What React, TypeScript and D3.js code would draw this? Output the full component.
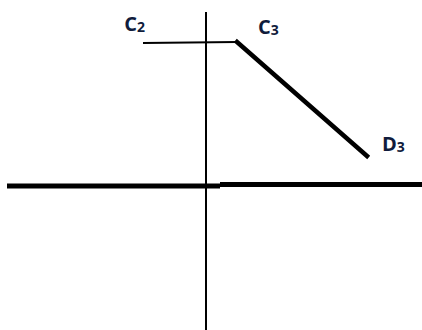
import React from "react";
import * as d3 from "d3";

// Points of the kinked demand segment (axis units)
const pointNames = ["C", "C", "D"];
const pointSubs = ["2", "3", "3"];
const pointX = [-6.3, 3.1, 16.1];
const pointY = [14.2, 14.3, 2.9];

// Label anchor offsets in axis units, relative to each point
const labelDX = [0.2, 2.1, 1.5];
const labelDY = [1.2, 0.8, 0.5];

const W = 422;
const H = 330;

export default function App() {
  const x = d3.scaleLinear().domain([-20, 21.6]).range([6, 422]);
  const y = d3.scaleLinear().domain([-14.5, 17.5]).range([330, 10]);

  const flat = d3.line<number>()
    .x((i) => x(pointX[i]))
    .y((i) => y(pointY[i]));

  return (
    <svg
      width={W}
      height={H}
      style={{ position: "absolute", left: 0, top: 0, background: "#fff" }}
    >
      {/* axes */}
      <line x1={x(-19.9)} x2={x(1.4)} y1={y(-0.1)} y2={y(-0.1)} stroke="#000" strokeWidth={5} />
      <line x1={x(1.4)} x2={x(21.6)} y1={y(0.05)} y2={y(0.05)} stroke="#000" strokeWidth={5} />
      <line x1={x(0)} x2={x(0)} y1={y(17.3)} y2={y(-14.5)} stroke="#000" strokeWidth={2} />

      {/* horizontal section C2–C3 */}
      <path d={flat([0, 1]) ?? ""} fill="none" stroke="#000" strokeWidth={2} />
      {/* sloped section C3–D3 */}
      <path
        d={flat([1, 2]) ?? ""}
        fill="none"
        stroke="#000"
        strokeWidth={4.5}
        strokeLinecap="square"
      />

      {pointNames.map((n, i) => (
        <text
          key={i}
          x={x(pointX[i] + labelDX[i])}
          y={y(pointY[i] + labelDY[i])}
          textAnchor={i === 0 ? "end" : "start"}
          fontFamily="'Open Sans', sans-serif"
          fontWeight={700}
          fontSize={20}
          fill="#101c3c"
        >
          {n}
          <tspan fontSize={14} dy={1}>{pointSubs[i]}</tspan>
        </text>
      ))}
    </svg>
  );
}
